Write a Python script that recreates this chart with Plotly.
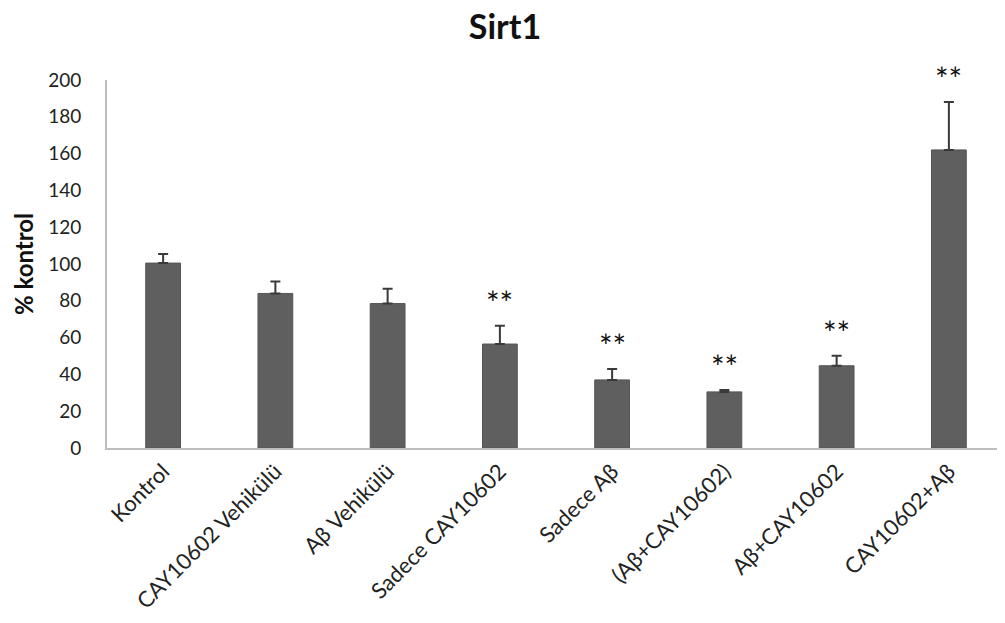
import plotly.graph_objects as go

categories = ["Kontrol", "CAY10602 Vehikülü", "Aβ Vehikülü", "Sadece CAY10602",
              "Sadece Aβ", "(Aβ+CAY10602)", "Aβ+CAY10602", "CAY10602+Aβ"]
values = [100.5, 84, 78.5, 56.5, 37, 30.5, 44.7, 162]
errors = [5, 6.5, 8, 10, 6, 1, 5.5, 26]
signif = ["", "", "", "**", "**", "**", "**", "**"]
y_ticks = [0, 20, 40, 60, 80, 100, 120, 140, 160, 180, 200]

font_fam = "Lato, 'Open Sans', sans-serif"

fig = go.Figure()
fig.add_trace(go.Bar(
    x=categories, y=values,
    marker=dict(color="#5f5f5f", line=dict(color="#555555", width=1)),
    width=0.31,
    error_y=dict(type="data", array=errors, arrayminus=[0]*len(errors),
                 symmetric=False, color="#3a3a3a", thickness=2, width=5),
))

for c, v, e, s in zip(categories, values, errors, signif):
    if s:
        fig.add_annotation(x=c, y=v + e, text=s, showarrow=False,
                           yanchor="bottom", yshift=2,
                           font=dict(family=font_fam, size=32, color="#111111"))

fig.update_layout(
    width=1005, height=623,
    margin=dict(l=99, r=8, t=72, b=183),
    paper_bgcolor="white", plot_bgcolor="white",
    showlegend=False,
    title=dict(text="<b>Sirt1</b>", x=0.4945, xanchor="center", y=0.9695, yanchor="middle",
               font=dict(family=font_fam, size=34, color="#111111")),
    font=dict(family=font_fam, color="#222222"),
)
fig.update_xaxes(
    showline=True, linecolor="#bdbdbd", linewidth=2,
    tickangle=-45, tickfont=dict(size=22, color="#222222"),
    ticks="", showgrid=False, ticklabelstandoff=0,
)
fig.update_yaxes(
    range=[0, 200], tickvals=y_ticks,
    showline=True, linecolor="#bdbdbd", linewidth=2,
    ticks="", showgrid=False, zeroline=False,
    tickfont=dict(size=19, color="#222222"),
    ticklabelstandoff=20,
    title=dict(text="<b>% kontrol</b>", font=dict(size=24, color="#111111"), standoff=8),
)

fig.write_html("out.html")
